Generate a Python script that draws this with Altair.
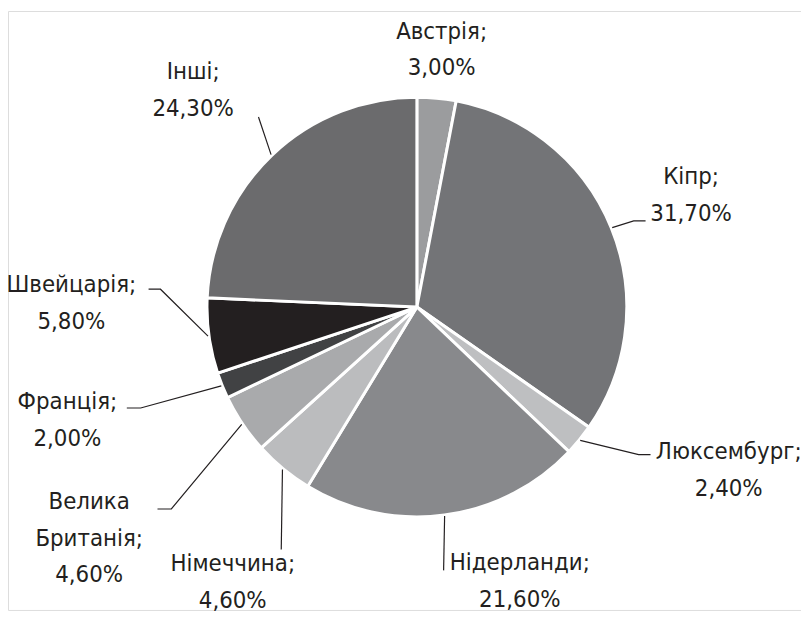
import math
import altair as alt
import pandas as pd

# ---- data ----
countries = ["Австрія", "Кіпр", "Люксембург", "Нідерланди", "Німеччина",
             "Велика Британія", "Франція", "Швейцарія", "Інші"]
shares = [3.0, 31.7, 2.4, 21.6, 4.6, 4.6, 2.0, 5.8, 24.3]
share_text = ["3,00%", "31,70%", "2,40%", "21,60%", "4,60%", "4,60%",
              "2,00%", "5,80%", "24,30%"]
name_lines = [["Австрія;"], ["Кіпр;"], ["Люксембург;"], ["Нідерланди;"],
              ["Німеччина;"], ["Велика", "Британія;"], ["Франція;"],
              ["Швейцарія;"], ["Інші;"]]
colors = ["#9b9c9e", "#737477", "#bebfc1", "#88898c", "#bbbcbe",
          "#a9aaac", "#414244", "#231f20", "#6b6b6d"]

# ---- layout (chart pixel units) ----
W, H = 801, 605
CX, CY, R = 413, 299, 212
FONT = "DejaVu Sans Condensed, Liberation Sans Narrow, sans-serif"
INK = "#231f20"

label_anchor = {
    "Австрія": (438, 28), "Кіпр": (690, 175), "Люксембург": (728, 453),
    "Нідерланди": (517, 565), "Німеччина": (227, 566),
    "Велика Британія": (82, 503), "Франція": (60, 402),
    "Швейцарія": (64, 284), "Інші": (187, 69),
}
leader_elbows = {
    "Кіпр": [(632, 212), (644, 212)],
    "Люксембург": [(637, 448), (649, 448)],
    "Нідерланди": [(440, 565)],
    "Німеччина": [(276, 544)],
    "Велика Британія": [(165, 503), (151, 503)],
    "Франція": [(134, 401), (120, 401)],
    "Швейцарія": [(154, 281), (142, 281)],
    "Інші": [(253, 107)],
}

slices = pd.DataFrame({"country": countries, "share": shares,
                       "idx": list(range(len(countries)))})

# leader lines start at the slice mid-angle on the rim
total = sum(shares)
rows = []
cum = 0.0
for c, s in zip(countries, shares):
    mid = (cum + s / 2) / total * 2 * math.pi
    cum += s
    if c not in leader_elbows:
        continue
    sx = CX + (R + 1) * math.sin(mid)
    sy = CY - (R + 1) * math.cos(mid)
    pts = [(sx, sy)] + leader_elbows[c]
    for i, (px, py) in enumerate(pts):
        rows.append({"country": c, "pt": i, "x": px, "y": py})
leaders = pd.DataFrame(rows)

labels = pd.DataFrame({
    "country": countries,
    "text": ["\n".join(n + [p]) for n, p in zip(name_lines, share_text)],
    "x": [label_anchor[c][0] for c in countries],
    "y": [label_anchor[c][1] for c in countries],
})

xs = alt.Scale(domain=[0, W], zero=False, nice=False)
ys = alt.Scale(domain=[H, 0], zero=False, nice=False)

pie = alt.Chart(slices).mark_arc(radius=R, stroke="white", strokeWidth=3).encode(
    theta=alt.Theta("share:Q", stack=True),
    order=alt.Order("idx:Q"),
    color=alt.Color("country:N", scale=alt.Scale(domain=countries, range=colors), legend=None),
    x=alt.datum(CX, scale=xs, axis=None),
    y=alt.datum(CY, scale=ys, axis=None),
)

lines = alt.Chart(leaders).mark_line(color=INK, strokeWidth=1.2).encode(
    x=alt.X("x:Q", scale=xs, axis=None),
    y=alt.Y("y:Q", scale=ys, axis=None),
    detail="country:N",
    order="pt:Q",
)

text = alt.Chart(labels).mark_text(
    font=FONT, fontSize=24, color=INK, align="center", baseline="alphabetic",
    lineBreak="\n", lineHeight=37,
).encode(
    x=alt.X("x:Q", scale=xs, axis=None),
    y=alt.Y("y:Q", scale=ys, axis=None),
    text="text:N",
)

chart = alt.layer(pie, lines, text).properties(
    width=W, height=H, padding=0,
    autosize=alt.AutoSizeParams(type="none"),
).configure_view(stroke=None, strokeWidth=0).configure(background="white")

chart.save("out.html", embed_options={"renderer": "svg", "actions": False})
